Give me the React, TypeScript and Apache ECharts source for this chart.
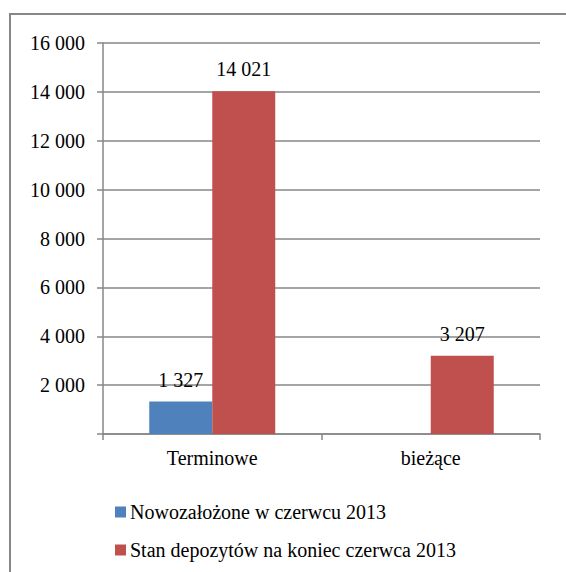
import React, { useEffect, useRef } from "react";
import * as echarts from "echarts";

const categories = ["Terminowe", "bieżące"];
const seriesNames = ["Nowozałożone w czerwcu 2013", "Stan depozytów na koniec czerwca 2013"];
const newDeposits: (number | string)[] = [1327, "-"];
const endOfJune: number[] = [14021, 3207];
const yTicks = [0, 2000, 4000, 6000, 8000, 10000, 12000, 14000, 16000];

const FONT = "Liberation Serif";
const GRAY = "#878787";

const fmt = (v: number) => String(Math.round(v)).replace(/\B(?=(\d{3})+(?!\d))/g, " ");

export default function App() {
  const ref = useRef<HTMLDivElement>(null);
  useEffect(() => {
    document.body.style.margin = "0";
    const chart = echarts.init(ref.current!, null, { renderer: "svg" });
    const label = {
      show: true,
      position: "top" as const,
      distance: 12,
      fontFamily: FONT,
      fontSize: 20,
      color: "#000",
      formatter: (p: any) => fmt(p.value),
    };
    chart.setOption({
      animation: false,
      backgroundColor: "#fff",
      graphic: [
        {
          type: "rect",
          shape: { x: 10, y: 14, width: 620, height: 620 },
          style: { fill: "none", stroke: GRAY, lineWidth: 2 },
          silent: true,
        },
      ],
      grid: { left: 103, right: 26, top: 43, bottom: 138 },
      legend: {
        orient: "vertical",
        left: 110,
        top: 497,
        itemWidth: 11,
        itemHeight: 11,
        itemGap: 18,
        icon: "rect",
        textStyle: { fontFamily: FONT, fontSize: 20, color: "#000", padding: [0, 0, 0, -1] },
        data: seriesNames,
      },
      xAxis: {
        type: "category",
        data: categories,
        axisLine: { lineStyle: { color: GRAY, width: 1.5 } },
        axisTick: { show: true, length: 6, lineStyle: { color: GRAY, width: 1.5 } },
        axisLabel: { fontFamily: FONT, fontSize: 20, color: "#000", margin: 14 },
      },
      yAxis: {
        type: "value",
        min: yTicks[0],
        max: yTicks[yTicks.length - 1],
        interval: 2000,
        axisLine: { show: true, lineStyle: { color: GRAY, width: 1.5 } },
        axisTick: { show: true, length: 6, lineStyle: { color: GRAY, width: 1.5 } },
        splitLine: { lineStyle: { color: GRAY, width: 1.5 } },
        axisLabel: {
          fontFamily: FONT,
          fontSize: 20,
          color: "#000",
          margin: 18,
          formatter: (v: number) => (v === 0 ? "" : fmt(v)),
        },
      },
      series: [
        {
          name: seriesNames[0],
          type: "bar",
          data: newDeposits,
          barWidth: 63,
          barGap: "0%",
          itemStyle: { color: "#4F81BD" },
          label,
        },
        {
          name: seriesNames[1],
          type: "bar",
          data: endOfJune,
          barWidth: 63,
          barGap: "0%",
          itemStyle: { color: "#C0504D" },
          label,
        },
      ],
    });
    return () => chart.dispose();
  }, []);
  return <div ref={ref} style={{ width: 566, height: 572 }} />;
}
